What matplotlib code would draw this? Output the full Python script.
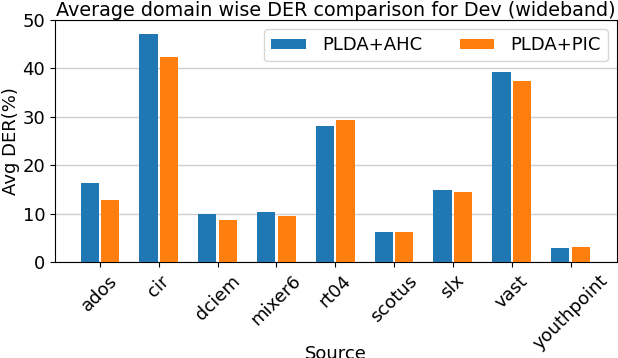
import matplotlib
matplotlib.use("Agg")
import matplotlib.pyplot as plt
import numpy as np

sources = ["ados", "cir", "dciem", "mixer6", "rt04", "scotus", "slx", "vast", "youthpoint"]
plda_ahc = [16.4, 47.2, 10.0, 10.4, 28.2, 6.3, 14.8, 39.2, 2.8]
plda_pic = [12.9, 42.3, 8.6, 9.6, 29.4, 6.1, 14.4, 37.3, 3.0]

x = np.arange(len(sources))
w = 0.31

fig = plt.figure(figsize=(6.18, 3.58), dpi=100)
ax = fig.add_axes([55 / 618, 1 - 262 / 358, 562 / 618, 242 / 358])
ax.bar(x - 0.175, plda_ahc, w, color="#1f77b4", label="PLDA+AHC", zorder=3)
ax.bar(x + 0.175, plda_pic, w, color="#ff7f0e", label="PLDA+PIC", zorder=3)

ax.set_xlim(-0.765, 8.79)
ax.set_ylim(0, 50)
ax.set_yticks([0, 10, 20, 30, 40, 50])
ax.set_xticks(x)
ax.set_xticklabels(sources, rotation=45, fontsize=13)
ax.tick_params(axis="y", labelsize=13)
ax.grid(axis="y", color="#d0d0d0", linewidth=1, zorder=0)
ax.set_xlabel("Source", fontsize=13, labelpad=-6)
ax.set_ylabel("Avg DER(%)", fontsize=13, labelpad=2)
ax.set_title("Average domain wise DER comparison for Dev (wideband)", fontsize=13.8, pad=2)
ax.legend(ncol=2, fontsize=13, loc="upper right", handlelength=1.9, handleheight=0.45,
          handletextpad=0.9, columnspacing=2.1, borderaxespad=0.5)

fig.savefig("out.png", dpi=100)
